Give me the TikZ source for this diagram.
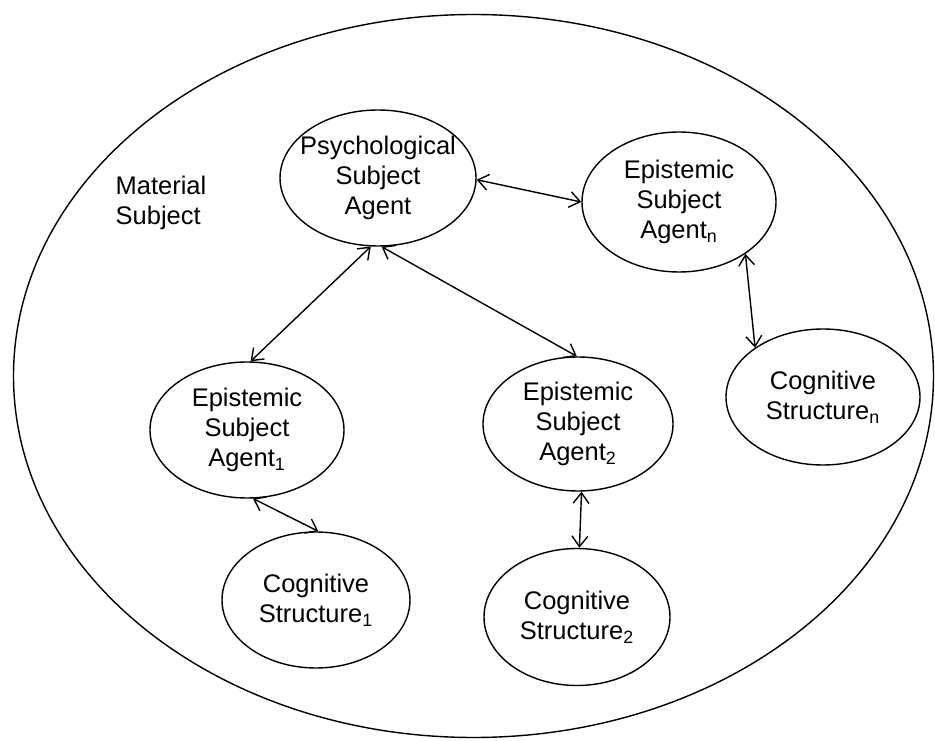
\documentclass[tikz,border=0pt]{standalone}
\usepackage{fontspec}
\setmainfont{Liberation Sans}
\usetikzlibrary{shapes.geometric,arrows.meta}

\begin{document}
\begin{tikzpicture}[
	oval/.style={ellipse, draw, line width=0.8pt, inner xsep=-4mm, inner ysep=0pt, align=center, font=\fontsize{14.5}{17}\selectfont},
	link/.style={<->, line width=0.8pt},
	>={Straight Barb[length=6pt,width=9pt]}
]
		%frame
			\useasboundingbox (0,0) rectangle (18.7,14.8);
			\draw [line width=0.8pt] (9.47,7.28) ellipse (9.2 and 7.23);
			\node [align=left, font=\fontsize{14.5}{17}\selectfont] (material) at (3.22,10.74) {Material\\Subject};
		%agents
			\node [oval, minimum width=3.92cm, minimum height=2.72cm] (psych) at (7.56,11.24) {Psychological\\Subject\\Agent};
			\node [oval, minimum width=3.88cm, minimum height=2.8cm] (agentn) at (13.58,10.76) {Epistemic\\Subject\\Agent\textsubscript{n}};
			\node [oval, minimum width=3.88cm, minimum height=2.72cm] (agent1) at (4.94,6.2) {Epistemic\\Subject\\Agent\textsubscript{1}};
			\node [oval, minimum width=3.8cm, minimum height=2.68cm] (agent2) at (11.56,6.32) {Epistemic\\Subject\\Agent\textsubscript{2}};
		%structures
			\node [oval, minimum width=3.76cm, minimum height=2.72cm] (cog1) at (6.32,2.8) {Cognitive\\Structure\textsubscript{1}};
			\node [oval, minimum width=3.72cm, minimum height=2.74cm] (cog2) at (11.54,2.46) {Cognitive\\Structure\textsubscript{2}};
			\node [oval, minimum width=3.88cm, minimum height=2.72cm] (cogn) at (16.46,6.86) {Cognitive\\Structure\textsubscript{n}};
		%arrows
			\draw [link] (psych.264) -- (agent1.87);
			\draw [link] (psych.273) -- (agent2.91);
			\draw [link] (psych.359) -- (agentn.180);
			\draw [link] (agent1.275) -- (cog1.88);
			\draw [link] (agent2.273) -- (cog2.88);
			\draw [link] (agentn.322) -- (cogn.144);
	\end{tikzpicture}
\end{document}
